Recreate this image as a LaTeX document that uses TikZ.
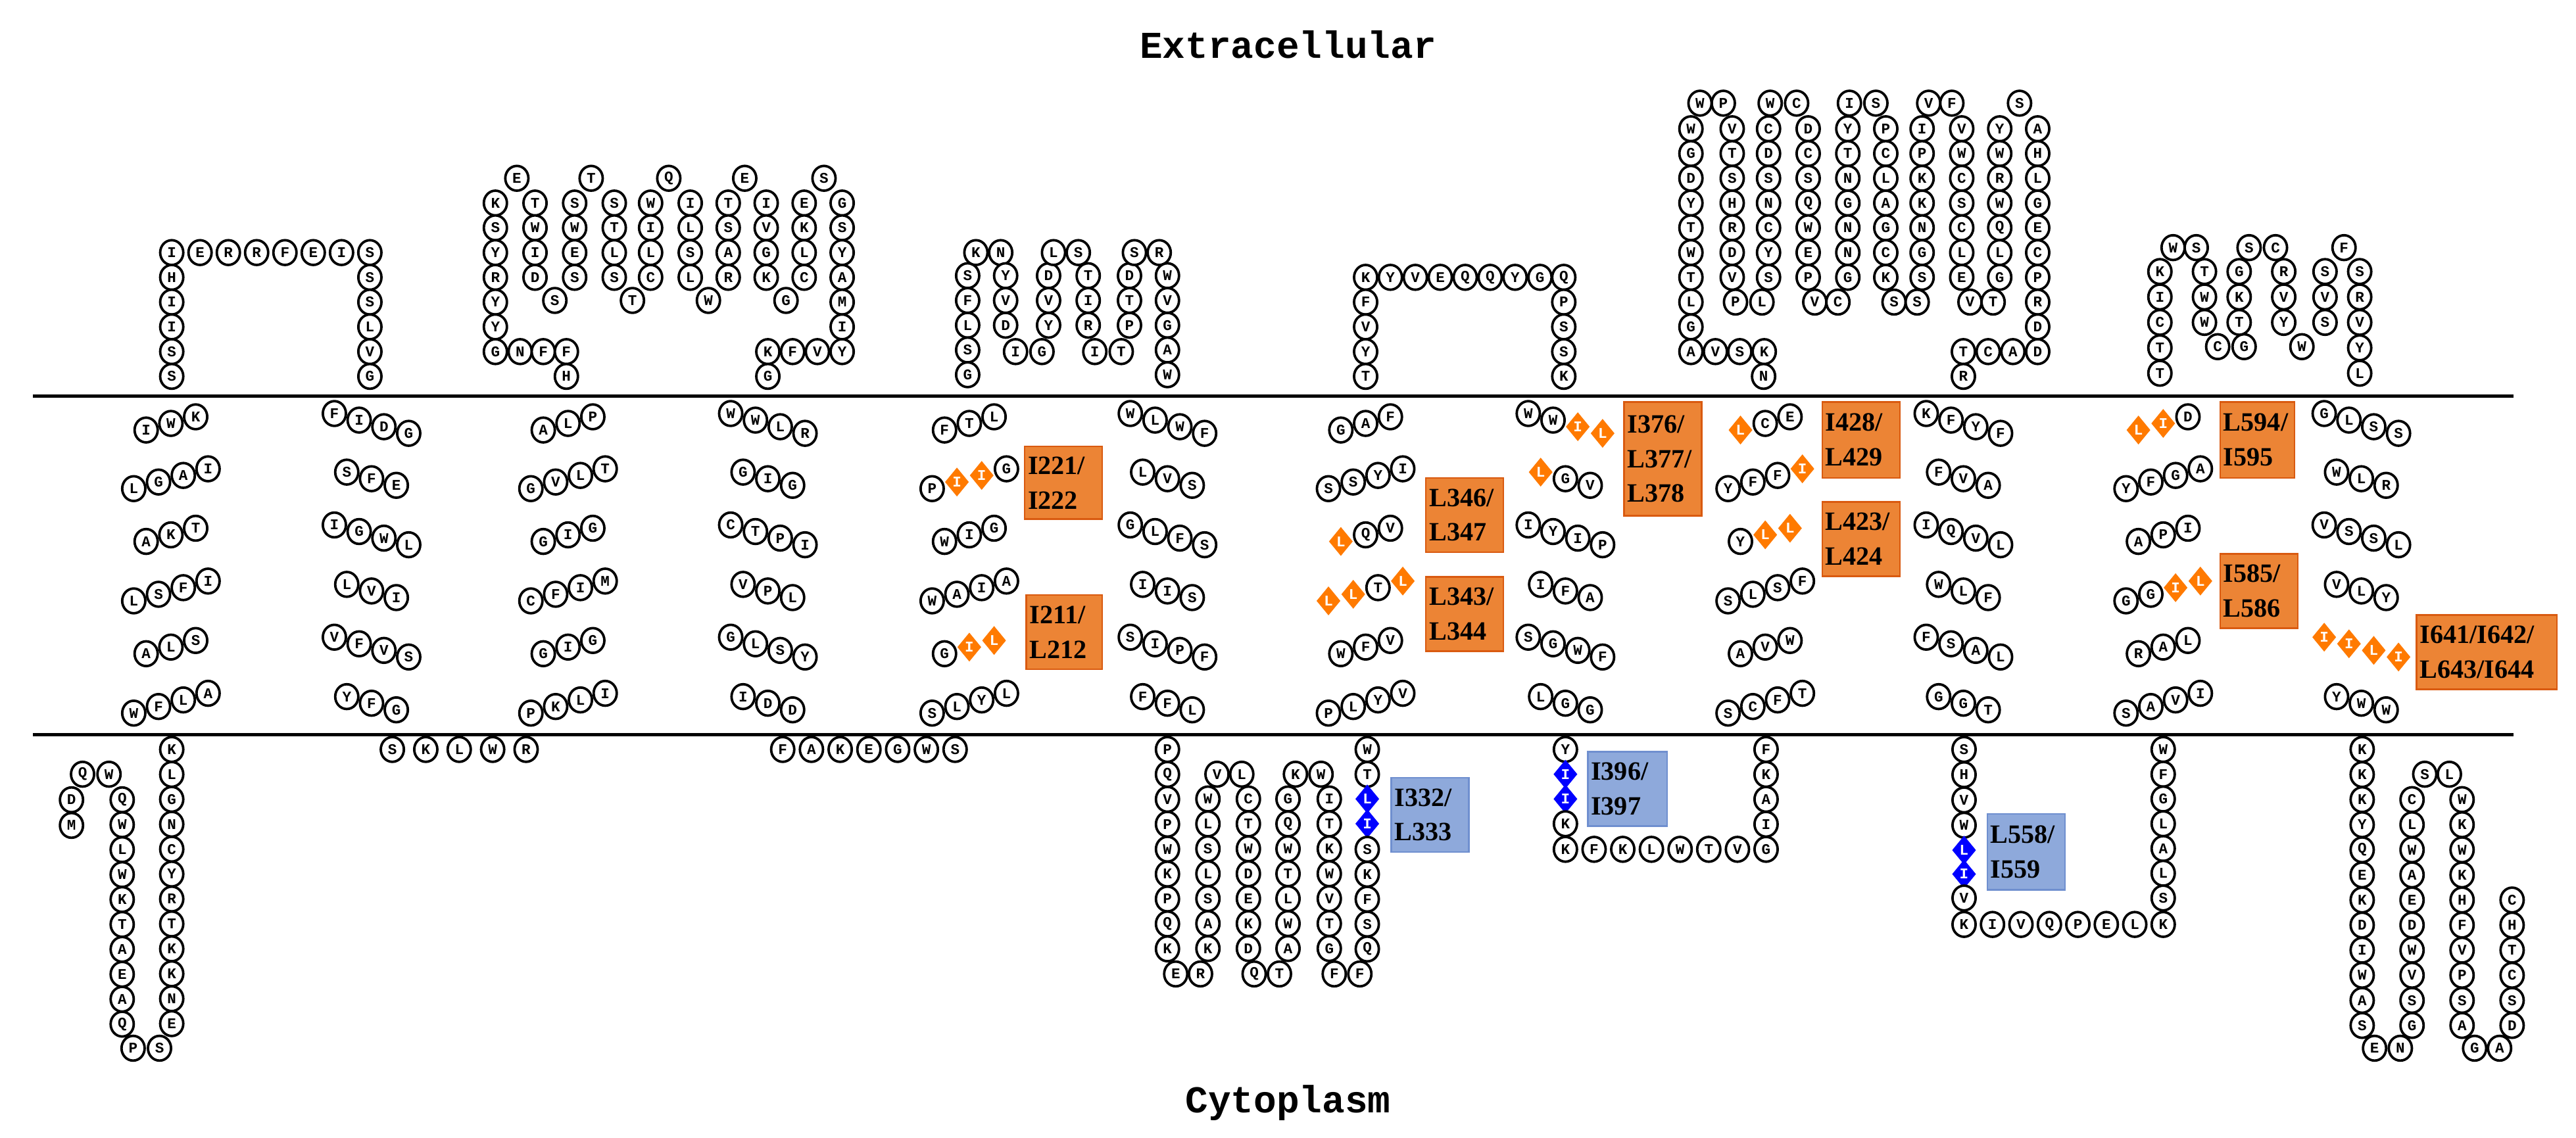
\documentclass[tikz,border=0pt]{standalone}
\usepackage{fontspec}
\setmainfont{Liberation Serif}
\newfontfamily\monof{Liberation Mono}
\usetikzlibrary{shapes.geometric}
\definecolor{oran}{HTML}{FF7A00}
\definecolor{oboxf}{HTML}{EC8435}
\definecolor{oboxd}{HTML}{D95A10}
\definecolor{bboxf}{HTML}{8EA9DB}
\definecolor{bboxd}{HTML}{6F8FCF}
\tikzset{
 r/.style={ellipse,draw,line width=1.5pt,minimum width=14pt,minimum height=15pt,inner sep=0pt,fill=white,font=\monof\bfseries\fontsize{9}{9}\selectfont},
 o/.style={diamond,fill=oran,draw=oran,minimum width=14pt,minimum height=17pt,inner sep=0pt,text=white,font=\monof\bfseries\fontsize{9}{9}\selectfont},
 b/.style={diamond,fill=blue,draw=blue,minimum width=14pt,minimum height=17pt,inner sep=0pt,text=white,font=\monof\bfseries\fontsize{9}{9}\selectfont},
 obox/.style={fill=oboxf,draw=oboxd,line width=1pt,anchor=north west,align=left,inner sep=2pt,font=\bfseries\fontsize{16}{21}\selectfont},
 bbox/.style={obox,fill=bboxf,draw=bboxd},
 mem/.style={line width=2pt},
 ttl/.style={font=\monof\bfseries\fontsize{23}{23}\selectfont}
}
\newcommand\rcolm[4]{\foreach \l [count=\i from 0] in {#4} \node[r] at (#1,{#2+\i*#3}) {\l};}
\newcommand\rrowm[4]{\foreach \l [count=\i from 0] in {#4} \node[r] at ({#2+\i*#3},#1) {\l};}
\newcommand\rone[3]{\node[r] at (#1,#2) {#3};}
\newcommand\mgrp[5]{\foreach \st/\l [count=\i from 0] in {#5} \node[\st] at ({#1+(\i-(#4-1)/2)*15},{#2+#3*(\i-(#4-1)/2)*4}) {\l};}
\begin{document}
\begin{tikzpicture}[x=1pt,y=-1pt]
\fill[white] (0,0) rectangle (1560,689);
\path[use as bounding box] (0,0) rectangle (1560,689);
\node[ttl] (ext) at (780,27) {Extracellular};
\node[ttl] (cyt) at (780,668) {Cytoplasm};
\draw[mem] (20,240) -- (1522,240);
\draw[mem] (20,445) -- (1522,445);
% ---- extracellular loops
\rrowm{153}{104}{17.14}{I,E,R,R,F,E,I,S}
\rcolm{104}{168}{15}{H,I,I,S,S}
\rcolm{224}{168}{15}{S,S,L,V,G}
% loop 2
\rcolm{300}{123}{15}{K,S,Y,R,Y,Y,G}
\rrowm{213}{315}{14}{N,F,F}
\rone{343}{228}{H}
\rcolm{324}{123}{15}{T,W,I,D}\rone{336}{182}{S}
\rcolm{348}{123}{15}{S,W,E,S}
\rcolm{372}{123}{15}{S,T,L,S}\rone{383}{182}{T}
\rcolm{394}{123}{15}{W,I,L,C}
\rcolm{418}{123}{15}{I,L,S,L}\rone{429}{182}{W}
\rcolm{441}{123}{15}{T,S,A,R}
\rcolm{464}{123}{15}{I,V,G,K}\rone{476}{182}{G}
\rcolm{487}{123}{15}{E,K,L,C}
\rcolm{510}{123}{15}{G,S,Y,A,M,I,Y}
\rrowm{213}{465}{15}{K,F,V}
\rone{465}{228}{G}
\rone{313}{108}{E}\rone{358}{108}{T}\rone{405}{108}{Q}\rone{451}{108}{E}\rone{499}{108}{S}
% loop 3
\rcolm{586}{167}{15}{S,F,L,S,G}
\rone{591}{153}{K}\rone{606}{153}{N}
\rcolm{609}{167}{15}{Y,V,D}\rone{615}{213}{I}\rone{631}{213}{G}
\rcolm{635}{167}{15}{D,V,Y}
\rone{638}{153}{L}\rone{653}{153}{S}
\rcolm{659}{167}{15}{T,I,R}\rone{663}{213}{I}\rone{679}{213}{T}
\rcolm{684}{167}{15}{D,T,P}
\rone{687}{153}{S}\rone{702}{153}{R}
\rcolm{707}{167}{15}{W,V,G,A,W}
% loop 4
\rcolm{827}{168}{15}{K,F,V,Y,T}
\rrowm{168}{842}{15.1}{Y,V,E,Q,Q,Y,G}
\rcolm{947}{168}{15}{Q,P,S,S,K}
% loop 5
\rcolm{1024}{78}{15}{W,G,D,Y,T,W,T,L,G}
\rrowm{213}{1024}{14.8}{A,V,S,K}
\rone{1068}{228}{N}
\rone{1029.5}{62.5}{W}\rone{1043.6}{62.5}{P}\rone{1072}{62.5}{W}\rone{1088}{62.5}{C}
\rone{1120}{62.5}{I}\rone{1136}{62.5}{S}\rone{1168}{62.5}{V}\rone{1182}{62.5}{F}\rone{1223}{62.5}{S}
\rcolm{1049}{78}{15}{V,T,S,H,R,D,V}\rone{1051}{183}{P}\rone{1067}{183}{L}
\rcolm{1071}{78}{15}{C,D,S,N,C,Y,S}
\rcolm{1095}{78}{15}{D,C,S,Q,W,E,P}\rone{1099}{183}{V}\rone{1113}{183}{C}
\rcolm{1119}{78}{15}{Y,T,N,G,N,N,G}
\rcolm{1142}{78}{15}{P,C,L,A,G,C,K}\rone{1147}{183}{S}\rone{1161}{183}{S}
\rcolm{1164}{78}{15}{I,P,K,K,N,G,S}
\rcolm{1188}{78}{15}{V,W,C,S,C,L,E}\rone{1193}{183}{V}\rone{1207}{183}{T}
\rcolm{1211}{78}{15}{Y,W,R,W,Q,L,G}
\rcolm{1234}{78}{15}{A,H,L,G,E,C,P,R,D,D}
\rrowm{213}{1189}{15}{T,C,A}
\rone{1189}{228}{R}
% loop 6
\rcolm{1308}{164.5}{15.4}{K,I,C,T,T}
\rone{1316}{150}{W}\rone{1330}{150}{S}\rone{1362}{150}{S}\rone{1378}{150}{C}\rone{1419.5}{150}{F}
\rcolm{1335}{164.5}{15.4}{T,W,W}\rone{1343}{210}{C}\rone{1359}{210}{G}
\rcolm{1356}{164.5}{15.4}{G,K,T}
\rcolm{1383}{164.5}{15.4}{R,V,Y}\rone{1394}{210}{W}
\rcolm{1408}{164.5}{15.4}{S,V,S}
\rcolm{1429}{164.5}{15.4}{S,R,V,Y,L}
% ---- membrane helices
% h1
\mgrp{103.5}{256.5}{-1}{3}{r/I,r/W,r/K}
\mgrp{103.5}{290}{-1}{4}{r/L,r/G,r/A,r/I}
\mgrp{103.5}{324}{-1}{3}{r/A,r/K,r/T}
\mgrp{103.5}{358}{-1}{4}{r/L,r/S,r/F,r/I}
\mgrp{103.5}{392}{-1}{3}{r/A,r/L,r/S}
\mgrp{103.5}{426}{-1}{4}{r/W,r/F,r/L,r/A}
% h2
\mgrp{225}{256.5}{1}{4}{r/F,r/I,r/D,r/G}
\mgrp{225}{290}{1}{3}{r/S,r/F,r/E}
\mgrp{225}{324}{1}{4}{r/I,r/G,r/W,r/L}
\mgrp{225}{358}{1}{3}{r/L,r/V,r/I}
\mgrp{225}{392}{1}{4}{r/V,r/F,r/V,r/S}
\mgrp{225}{426}{1}{3}{r/Y,r/F,r/G}
% h3
\mgrp{344}{256.5}{-1}{3}{r/A,r/L,r/P}
\mgrp{344}{290}{-1}{4}{r/G,r/V,r/L,r/T}
\mgrp{344}{324}{-1}{3}{r/G,r/I,r/G}
\mgrp{344}{358}{-1}{4}{r/C,r/F,r/I,r/M}
\mgrp{344}{392}{-1}{3}{r/G,r/I,r/G}
\mgrp{344}{426}{-1}{4}{r/P,r/K,r/L,r/I}
% h4
\mgrp{465}{256.5}{1}{4}{r/W,r/W,r/L,r/R}
\mgrp{465}{290}{1}{3}{r/G,r/I,r/G}
\mgrp{465}{324}{1}{4}{r/C,r/T,r/P,r/I}
\mgrp{465}{358}{1}{3}{r/V,r/P,r/L}
\mgrp{465}{392}{1}{4}{r/G,r/L,r/S,r/Y}
\mgrp{465}{426}{1}{3}{r/I,r/D,r/D}
% h5
\mgrp{587}{256.5}{-1}{3}{r/F,r/T,r/L}
\mgrp{587}{290}{-1}{4}{r/P,o/I,o/I,r/G}
\mgrp{587}{324}{-1}{3}{r/W,r/I,r/G}
\mgrp{587}{358}{-1}{4}{r/W,r/A,r/I,r/A}
\mgrp{587}{392}{-1}{3}{r/G,o/I,o/L}
\mgrp{587}{426}{-1}{4}{r/S,r/L,r/Y,r/L}
% h6
\mgrp{707}{256.5}{1}{4}{r/W,r/L,r/W,r/F}
\mgrp{707}{290}{1}{3}{r/L,r/V,r/S}
\mgrp{707}{324}{1}{4}{r/G,r/L,r/F,r/S}
\mgrp{707}{358}{1}{3}{r/I,r/I,r/S}
\mgrp{707}{392}{1}{4}{r/S,r/I,r/P,r/F}
\mgrp{707}{426}{1}{3}{r/F,r/F,r/L}
% h7
\mgrp{827}{256.5}{-1}{3}{r/G,r/A,r/F}
\mgrp{827}{290}{-1}{4}{r/S,r/S,r/Y,r/I}
\mgrp{827}{324}{-1}{3}{o/L,r/Q,r/V}
\mgrp{827}{358}{-1}{4}{o/L,o/L,r/T,o/L}
\mgrp{827}{392}{-1}{3}{r/W,r/F,r/V}
\mgrp{827}{426}{-1}{4}{r/P,r/L,r/Y,r/V}
% h8
\mgrp{948}{256.5}{1}{4}{r/W,r/W,o/I,o/L}
\mgrp{948}{290}{1}{3}{o/L,r/G,r/V}
\mgrp{948}{324}{1}{4}{r/I,r/Y,r/I,r/P}
\mgrp{948}{358}{1}{3}{r/I,r/F,r/A}
\mgrp{948}{392}{1}{4}{r/S,r/G,r/W,r/F}
\mgrp{948}{426}{1}{3}{r/L,r/G,r/G}
% h9
\mgrp{1069}{256.5}{-1}{3}{o/L,r/C,r/E}
\mgrp{1069}{290}{-1}{4}{r/Y,r/F,r/F,o/I}
\mgrp{1069}{324}{-1}{3}{r/Y,o/L,o/L}
\mgrp{1069}{358}{-1}{4}{r/S,r/L,r/S,r/F}
\mgrp{1069}{392}{-1}{3}{r/A,r/V,r/W}
\mgrp{1069}{426}{-1}{4}{r/S,r/C,r/F,r/T}
% h10
\mgrp{1189}{256.5}{1}{4}{r/K,r/F,r/Y,r/F}
\mgrp{1189}{290}{1}{3}{r/F,r/V,r/A}
\mgrp{1189}{324}{1}{4}{r/I,r/Q,r/V,r/L}
\mgrp{1189}{358}{1}{3}{r/W,r/L,r/F}
\mgrp{1189}{392}{1}{4}{r/F,r/S,r/A,r/L}
\mgrp{1189}{426}{1}{3}{r/G,r/G,r/T}
% h11
\mgrp{1310}{256.5}{-1}{3}{o/L,o/I,r/D}
\mgrp{1310}{290}{-1}{4}{r/Y,r/F,r/G,r/A}
\mgrp{1310}{324}{-1}{3}{r/A,r/P,r/I}
\mgrp{1310}{358}{-1}{4}{r/G,r/G,o/I,o/L}
\mgrp{1310}{392}{-1}{3}{r/R,r/A,r/L}
\mgrp{1310}{426}{-1}{4}{r/S,r/A,r/V,r/I}
% h12
\mgrp{1430}{256.5}{1}{4}{r/G,r/L,r/S,r/S}
\mgrp{1430}{290}{1}{3}{r/W,r/L,r/R}
\mgrp{1430}{324}{1}{4}{r/V,r/S,r/S,r/L}
\mgrp{1430}{358}{1}{3}{r/V,r/L,r/Y}
\mgrp{1430}{392}{1}{4}{o/I,o/I,o/L,o/I}
\mgrp{1430}{426}{1}{3}{r/Y,r/W,r/W}
% ---- cytoplasmic parts
\rcolm{104}{454}{15.1}{K,L,G,N,C,Y,R,T,K,K,N,E}
\rone{80.6}{635}{P}\rone{96.6}{635}{S}
\rcolm{74}{484.5}{15.1}{Q,W,L,W,K,T,A,E,A,Q}
\rone{50}{469}{Q}\rone{66}{469}{W}
\rone{43.3}{484.5}{D}\rone{43.3}{500}{M}
\rrowm{454}{237.6}{20.25}{S,K,L,W,R}
\rrowm{454}{474}{17.4}{F,A,K,E,G,W,S}
% loop 3 cyto
\rcolm{707}{454}{15.1}{P,Q,V,P,W,K,P,Q,K}
\rone{712}{590}{E}\rone{727}{590}{R}
\rone{737}{469}{V}\rone{752}{469}{L}
\rcolm{731.5}{484}{15.1}{W,L,S,L,S,A,K}
\rcolm{756}{484}{15.1}{C,T,W,D,E,K,D}
\rone{759.5}{590}{Q}\rone{774.8}{590}{T}
\rcolm{780}{484}{15.1}{G,Q,W,T,L,W,A}
\rone{784.5}{469}{K}\rone{800}{469}{W}
\rcolm{805}{484}{15.1}{I,T,K,W,V,T,G}
\rone{808}{590}{F}\rone{823.5}{590}{F}
\rcolm{828}{454}{15.1}{W,T}
\node[b] (b1) at (828,484){L};\node[b] (b2) at (828,499){I};
\rcolm{828}{514.5}{15.1}{S,K,F,S,Q}
% loop 4 cyto
\rone{948}{454}{Y}
\node[b] (b3) at (948,469){I};\node[b] (b4) at (948,484){I};
\rone{948}{499}{K}
\rrowm{514.5}{948}{17.36}{K,F,K,L,W,T,V,G}
\rcolm{1069.5}{454}{15.1}{F,K,A,I}
% loop 5 cyto
\rcolm{1189.4}{454}{15.3}{S,H,V,W}
\node[b] (b5) at (1189.4,515){L};\node[b] (b6) at (1189.4,529.5){I};
\rone{1189.4}{544}{V}
\rrowm{560}{1189.4}{17.23}{K,I,V,Q,P,E,L,K}
\rcolm{1310}{454}{15}{W,F,G,L,A,L,S}
% C-term
\rcolm{1430.5}{454}{15.2}{K,K,K,Y,Q,E,K,D,I,W,A,S}
\rone{1438}{635}{E}\rone{1453.6}{635}{N}
\rone{1468.4}{469}{S}\rone{1483.3}{469}{L}
\rcolm{1460.7}{484.4}{15.2}{C,L,W,A,E,D,W,V,S,G}
\rcolm{1491}{484.4}{15.2}{W,K,W,K,H,F,V,P,S,A}
\rone{1498.6}{635}{G}\rone{1513.7}{635}{A}
\rcolm{1521.3}{545.2}{15.2}{C,H,T,C,S,D}
% ---- labels
\node[obox,text width=43pt,minimum height=44pt] (l1) at (620,270) {I221/\\I222};
\node[obox,text width=42pt,minimum height=45pt] (l2) at (621,360) {I211/\\L212};
\node[obox,text width=43pt,minimum height=45pt] (l3) at (863,289) {L346/\\L347};
\node[obox,text width=43pt,minimum height=45pt] (l4) at (863,349) {L343/\\L344};
\node[obox,text width=43pt,minimum height=69pt] (l5) at (983,243) {I376/\\L377/\\L378};
\node[obox,text width=43pt,minimum height=46pt] (l6) at (1103,243) {I428/\\L429};
\node[obox,text width=43pt,minimum height=45pt] (l7) at (1103,303.5) {L423/\\L424};
\node[obox,text width=41pt,minimum height=46pt] (l8) at (1344,243) {L594/\\I595};
\node[obox,text width=43pt,minimum height=45pt] (l9) at (1344,335) {I585/\\L586};
\node[obox,text width=81pt,minimum height=45pt] (l10) at (1463,372) {I641/I642/\\L643/I644};
\node[bbox,text width=43pt,minimum height=45pt] (l11) at (842,470.6) {I332/\\L333};
\node[bbox,text width=44pt,minimum height=45pt] (l12) at (961,455) {I396/\\I397};
\node[bbox,text width=43pt,minimum height=46pt] (l13) at (1203,492.6) {L558/\\I559};
\end{tikzpicture}
\end{document}
